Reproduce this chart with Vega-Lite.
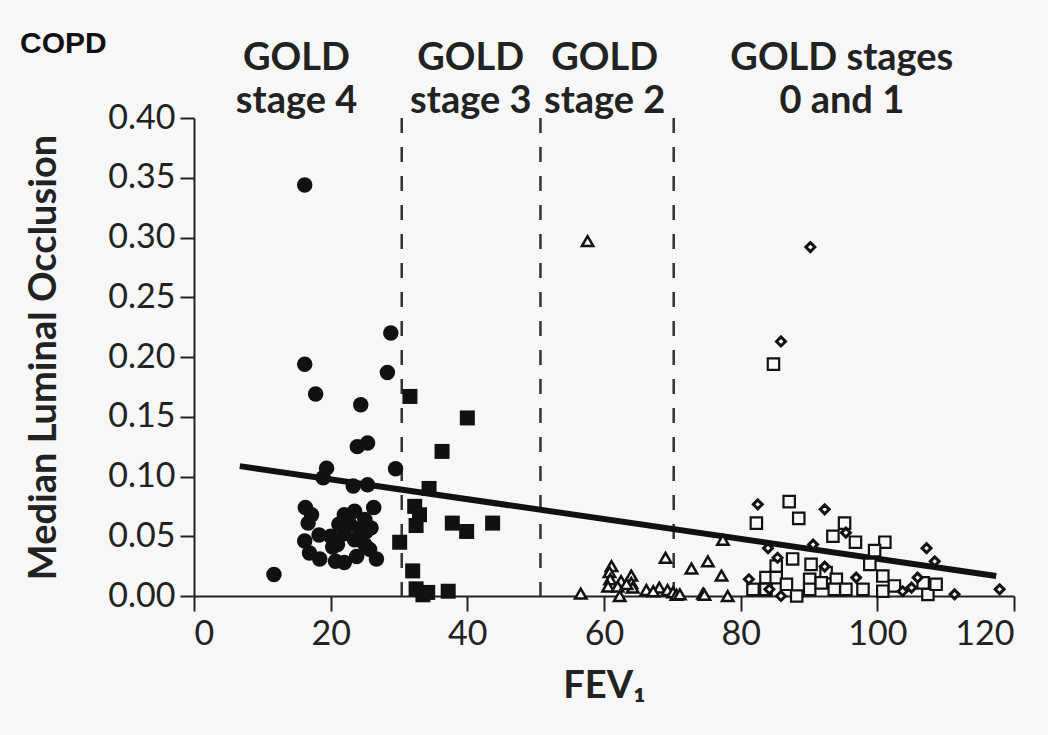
{
  "$schema": "https://vega.github.io/schema/vega-lite/v6.json",
  "width": 820,
  "height": 478,
  "autosize": "none",
  "padding": {"left": 194, "top": 118, "right": 34, "bottom": 139},
  "background": "#f7f7f7",
  "title": {"text": "COPD", "anchor": "start", "frame": "group", "dx": -174, "offset": -43, "baseline": "alphabetic", "font": "Liberation Sans", "fontSize": 30, "fontWeight": "bold", "color": "#111111"},
  "config": {
    "view": {"stroke": null},
    "axis": {"grid": false, "labelFont": "Lato", "labelFontSize": 34, "labelColor": "#222222", "titleFont": "Lato", "titleFontSize": 38, "titleFontWeight": "bold", "titleColor": "#222222", "domainColor": "#222222", "domainWidth": 2, "tickColor": "#222222", "tickWidth": 2}
  },
  "datasets": {
    "points": [
      {"group": "stage4", "fev1": 16.2, "occ": 0.344},
      {"group": "stage4", "fev1": 28.8, "occ": 0.220},
      {"group": "stage4", "fev1": 16.2, "occ": 0.194},
      {"group": "stage4", "fev1": 28.3, "occ": 0.187},
      {"group": "stage4", "fev1": 17.8, "occ": 0.169},
      {"group": "stage4", "fev1": 24.4, "occ": 0.160},
      {"group": "stage4", "fev1": 23.9, "occ": 0.125},
      {"group": "stage4", "fev1": 25.4, "occ": 0.128},
      {"group": "stage4", "fev1": 19.4, "occ": 0.107},
      {"group": "stage4", "fev1": 29.5, "occ": 0.1065},
      {"group": "stage4", "fev1": 18.9, "occ": 0.099},
      {"group": "stage4", "fev1": 23.3, "occ": 0.092},
      {"group": "stage4", "fev1": 25.4, "occ": 0.093},
      {"group": "stage4", "fev1": 26.3, "occ": 0.074},
      {"group": "stage4", "fev1": 16.3, "occ": 0.074},
      {"group": "stage4", "fev1": 17.2, "occ": 0.068},
      {"group": "stage4", "fev1": 16.7, "occ": 0.061},
      {"group": "stage4", "fev1": 18.3, "occ": 0.051},
      {"group": "stage4", "fev1": 16.2, "occ": 0.046},
      {"group": "stage4", "fev1": 16.9, "occ": 0.036},
      {"group": "stage4", "fev1": 18.4, "occ": 0.031},
      {"group": "stage4", "fev1": 20.3, "occ": 0.041},
      {"group": "stage4", "fev1": 20.7, "occ": 0.029},
      {"group": "stage4", "fev1": 22.0, "occ": 0.028},
      {"group": "stage4", "fev1": 23.8, "occ": 0.033},
      {"group": "stage4", "fev1": 25.7, "occ": 0.039},
      {"group": "stage4", "fev1": 26.7, "occ": 0.031},
      {"group": "stage4", "fev1": 11.7, "occ": 0.018},
      {"group": "stage4", "fev1": 22.0, "occ": 0.068},
      {"group": "stage4", "fev1": 23.5, "occ": 0.071},
      {"group": "stage4", "fev1": 25.0, "occ": 0.064},
      {"group": "stage4", "fev1": 22.8, "occ": 0.060},
      {"group": "stage4", "fev1": 24.2, "occ": 0.056},
      {"group": "stage4", "fev1": 25.9, "occ": 0.057},
      {"group": "stage4", "fev1": 22.0, "occ": 0.052},
      {"group": "stage4", "fev1": 23.5, "occ": 0.047},
      {"group": "stage4", "fev1": 25.0, "occ": 0.043},
      {"group": "stage4", "fev1": 21.0, "occ": 0.043},
      {"group": "stage4", "fev1": 25.2, "occ": 0.054},
      {"group": "stage4", "fev1": 21.2, "occ": 0.060},
      {"group": "stage4", "fev1": 20.0, "occ": 0.050},
      {"group": "stage3", "fev1": 31.6, "occ": 0.167},
      {"group": "stage3", "fev1": 40.0, "occ": 0.149},
      {"group": "stage3", "fev1": 36.3, "occ": 0.121},
      {"group": "stage3", "fev1": 34.4, "occ": 0.090},
      {"group": "stage3", "fev1": 32.3, "occ": 0.075},
      {"group": "stage3", "fev1": 33.0, "occ": 0.068},
      {"group": "stage3", "fev1": 32.5, "occ": 0.059},
      {"group": "stage3", "fev1": 37.8, "occ": 0.061},
      {"group": "stage3", "fev1": 39.9, "occ": 0.054},
      {"group": "stage3", "fev1": 43.7, "occ": 0.061},
      {"group": "stage3", "fev1": 30.1, "occ": 0.045},
      {"group": "stage3", "fev1": 32.0, "occ": 0.021},
      {"group": "stage3", "fev1": 32.5, "occ": 0.006},
      {"group": "stage3", "fev1": 34.2, "occ": 0.003},
      {"group": "stage3", "fev1": 37.2, "occ": 0.004},
      {"group": "stage3", "fev1": 33.5, "occ": 0.001},
      {"group": "stage2", "fev1": 57.6, "occ": 0.297},
      {"group": "stage2", "fev1": 69.0, "occ": 0.032},
      {"group": "stage2", "fev1": 72.8, "occ": 0.023},
      {"group": "stage2", "fev1": 75.2, "occ": 0.029},
      {"group": "stage2", "fev1": 77.4, "occ": 0.047},
      {"group": "stage2", "fev1": 77.2, "occ": 0.017},
      {"group": "stage2", "fev1": 61.1, "occ": 0.025},
      {"group": "stage2", "fev1": 60.8, "occ": 0.020},
      {"group": "stage2", "fev1": 60.9, "occ": 0.014},
      {"group": "stage2", "fev1": 60.6, "occ": 0.008},
      {"group": "stage2", "fev1": 62.5, "occ": 0.0125},
      {"group": "stage2", "fev1": 62.3, "occ": 0.000},
      {"group": "stage2", "fev1": 64.0, "occ": 0.017},
      {"group": "stage2", "fev1": 64.0, "occ": 0.011},
      {"group": "stage2", "fev1": 64.2, "occ": 0.007},
      {"group": "stage2", "fev1": 66.2, "occ": 0.005},
      {"group": "stage2", "fev1": 68.1, "occ": 0.007},
      {"group": "stage2", "fev1": 69.3, "occ": 0.005},
      {"group": "stage2", "fev1": 70.1, "occ": 0.003},
      {"group": "stage2", "fev1": 70.6, "occ": 0.001},
      {"group": "stage2", "fev1": 74.5, "occ": 0.002},
      {"group": "stage2", "fev1": 56.6, "occ": 0.002},
      {"group": "stage2", "fev1": 62.0, "occ": 0.008},
      {"group": "stage2", "fev1": 63.3, "occ": 0.010},
      {"group": "stage2", "fev1": 67.2, "occ": 0.004},
      {"group": "stage2", "fev1": 78.1, "occ": 0.000},
      {"group": "stage2", "fev1": 74.7, "occ": 0.001},
      {"group": "stage2", "fev1": 71.1, "occ": 0.0014},
      {"group": "stage1", "fev1": 84.8, "occ": 0.194},
      {"group": "stage1", "fev1": 87.1, "occ": 0.079},
      {"group": "stage1", "fev1": 82.3, "occ": 0.061},
      {"group": "stage1", "fev1": 88.5, "occ": 0.065},
      {"group": "stage1", "fev1": 95.2, "occ": 0.061},
      {"group": "stage1", "fev1": 93.5, "occ": 0.050},
      {"group": "stage1", "fev1": 96.8, "occ": 0.045},
      {"group": "stage1", "fev1": 85.2, "occ": 0.025},
      {"group": "stage1", "fev1": 87.6, "occ": 0.031},
      {"group": "stage1", "fev1": 90.3, "occ": 0.0265},
      {"group": "stage1", "fev1": 92.5, "occ": 0.0196},
      {"group": "stage1", "fev1": 83.7, "occ": 0.0154},
      {"group": "stage1", "fev1": 85.2, "occ": 0.0154},
      {"group": "stage1", "fev1": 81.8, "occ": 0.0056},
      {"group": "stage1", "fev1": 83.7, "occ": 0.0056},
      {"group": "stage1", "fev1": 86.7, "occ": 0.0098},
      {"group": "stage1", "fev1": 88.2, "occ": 0.0},
      {"group": "stage1", "fev1": 90.1, "occ": 0.014},
      {"group": "stage1", "fev1": 90.1, "occ": 0.0056},
      {"group": "stage1", "fev1": 91.8, "occ": 0.011},
      {"group": "stage1", "fev1": 94.0, "occ": 0.014},
      {"group": "stage1", "fev1": 93.7, "occ": 0.0056},
      {"group": "stage1", "fev1": 95.4, "occ": 0.0056},
      {"group": "stage1", "fev1": 101.1, "occ": 0.045},
      {"group": "stage1", "fev1": 99.6, "occ": 0.038},
      {"group": "stage1", "fev1": 98.9, "occ": 0.0265},
      {"group": "stage1", "fev1": 100.8, "occ": 0.0167},
      {"group": "stage1", "fev1": 100.8, "occ": 0.004},
      {"group": "stage1", "fev1": 102.5, "occ": 0.0084},
      {"group": "stage1", "fev1": 97.9, "occ": 0.0056},
      {"group": "stage1", "fev1": 107.4, "occ": 0.0014},
      {"group": "stage1", "fev1": 108.6, "occ": 0.0098},
      {"group": "stage1", "fev1": 106.7, "occ": 0.011},
      {"group": "stage0", "fev1": 90.2, "occ": 0.292},
      {"group": "stage0", "fev1": 85.9, "occ": 0.213},
      {"group": "stage0", "fev1": 82.5, "occ": 0.0767},
      {"group": "stage0", "fev1": 92.3, "occ": 0.0725},
      {"group": "stage0", "fev1": 95.4, "occ": 0.053},
      {"group": "stage0", "fev1": 84.0, "occ": 0.040},
      {"group": "stage0", "fev1": 90.6, "occ": 0.043},
      {"group": "stage0", "fev1": 85.4, "occ": 0.032},
      {"group": "stage0", "fev1": 92.3, "occ": 0.0246},
      {"group": "stage0", "fev1": 81.2, "occ": 0.014},
      {"group": "stage0", "fev1": 85.9, "occ": 0.0},
      {"group": "stage0", "fev1": 96.9, "occ": 0.0154},
      {"group": "stage0", "fev1": 84.2, "occ": 0.0056},
      {"group": "stage0", "fev1": 107.2, "occ": 0.040},
      {"group": "stage0", "fev1": 108.4, "occ": 0.029},
      {"group": "stage0", "fev1": 105.0, "occ": 0.007},
      {"group": "stage0", "fev1": 105.9, "occ": 0.0154},
      {"group": "stage0", "fev1": 111.3, "occ": 0.0014},
      {"group": "stage0", "fev1": 117.9, "occ": 0.0056},
      {"group": "stage0", "fev1": 103.7, "occ": 0.004}
    ],
    "fit": [
      {"fev1": 6.7, "occ": 0.1087},
      {"fev1": 117.4, "occ": 0.0167}
    ],
    "cutoffs": [
      {"fev1": 30.4},
      {"fev1": 50.7},
      {"fev1": 70.2}
    ],
    "labels": [
      {"fev1": 15.0, "occ": 0.4404, "text": "GOLD"},
      {"fev1": 15.0, "occ": 0.4044, "text": "stage 4"},
      {"fev1": 40.5, "occ": 0.4404, "text": "GOLD"},
      {"fev1": 40.5, "occ": 0.4044, "text": "stage 3"},
      {"fev1": 60.1, "occ": 0.4404, "text": "GOLD"},
      {"fev1": 60.1, "occ": 0.4044, "text": "stage 2"},
      {"fev1": 94.8, "occ": 0.4404, "text": "GOLD stages"},
      {"fev1": 94.8, "occ": 0.4044, "text": "0 and 1"}
    ]
  },
  "encoding": {
    "x": {"field": "fev1", "type": "quantitative",
      "scale": {"domain": [0, 120], "nice": false, "zero": false},
      "axis": {"values": [0, 20, 40, 60, 80, 100, 120], "tickSize": 15, "labelPadding": 6, "title": "FEV₁", "titlePadding": 16}}
  },
  "layer": [
    {
      "data": {"name": "cutoffs"},
      "mark": {"type": "rule", "strokeDash": [15, 14], "strokeWidth": 2.5, "color": "#333333"},
      "encoding": {}
    },
    {
      "encoding": {
        "y": {"field": "occ", "type": "quantitative",
          "scale": {"domain": [0, 0.4], "nice": false, "zero": false},
          "axis": {"values": [0, 0.05, 0.1, 0.15, 0.2, 0.25, 0.3, 0.35, 0.4], "format": ".2f", "tickSize": 14, "labelPadding": 5, "title": "Median Luminal Occlusion", "titlePadding": 44}}
      },
      "layer": [
        {
          "data": {"name": "fit"},
          "mark": {"type": "line", "strokeWidth": 6, "color": "#111111"},
          "encoding": {}
        },
        {
          "data": {"name": "points"},
          "transform": [{"filter": "datum.group === 'stage4'"}],
          "mark": {"type": "point", "shape": "circle", "filled": true, "size": 240, "color": "#111111", "opacity": 1}
        },
        {
          "data": {"name": "points"},
          "transform": [{"filter": "datum.group === 'stage3'"}],
          "mark": {"type": "point", "shape": "square", "filled": true, "size": 225, "color": "#111111", "opacity": 1}
        },
        {
          "data": {"name": "points"},
          "transform": [{"filter": "datum.group === 'stage2'"}],
          "mark": {"type": "point", "shape": "triangle-up", "filled": false, "size": 130, "stroke": "#111111", "strokeWidth": 2.5, "fill": "#f7f7f7", "opacity": 1}
        },
        {
          "data": {"name": "points"},
          "transform": [{"filter": "datum.group === 'stage1'"}],
          "mark": {"type": "point", "shape": "square", "filled": false, "size": 130, "stroke": "#111111", "strokeWidth": 2.2, "fill": "#f7f7f7", "opacity": 1}
        },
        {
          "data": {"name": "points"},
          "transform": [{"filter": "datum.group === 'stage0'"}],
          "mark": {"type": "point", "shape": "diamond", "filled": false, "size": 80, "stroke": "#111111", "strokeWidth": 3, "fill": "#f7f7f7", "opacity": 1}
        },
        {
          "data": {"name": "labels"},
          "mark": {"type": "text", "font": "Lato", "fontSize": 38, "fontWeight": "bold", "color": "#222222", "align": "center", "baseline": "alphabetic", "clip": false},
          "encoding": {"text": {"field": "text"}}
        }
      ]
    }
  ]
}
